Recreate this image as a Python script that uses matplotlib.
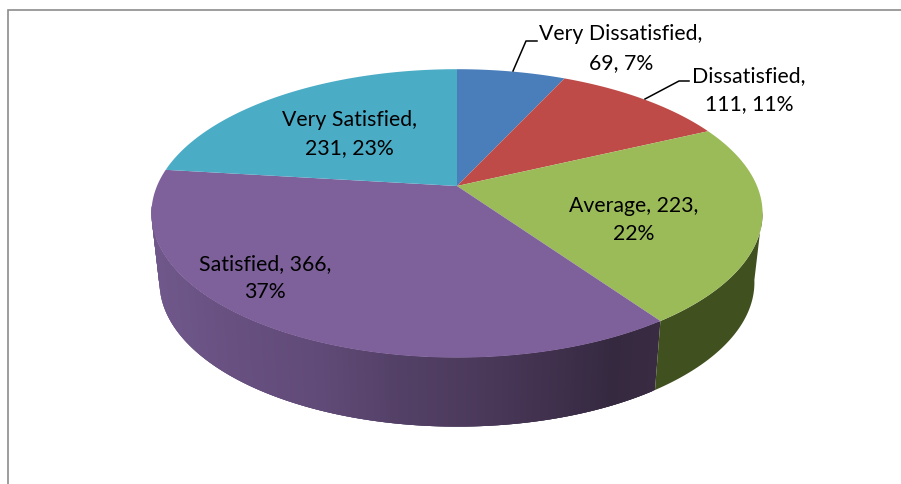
import numpy as np
import matplotlib
matplotlib.use("Agg")
import matplotlib.pyplot as plt

# 数据
names = ["Very Dissatisfied", "Dissatisfied", "Average", "Satisfied", "Very Satisfied"]
values = [69, 111, 223, 366, 231]
top_colors = ["#4a7ebb", "#be4b48", "#9bbb59", "#7e609b", "#4bacc6"]
side_colors = ["#2a4260", "#622826", "#40501f", "#412f52", "#266071"]
label_x = [621, 749, 634, 265, 349]
label_y = [48.5, 90, 220, 278, 134]
name_and_value_first = [False, False, True, True, False]

# 透视参数
cx, cy = 457, 186
ax_r, by_r, k = 300, 139, 0.19
bottom_cy, bottom_r = 255, 292

# 紫色侧面的渐变
grad_x = [150, 230, 320, 400, 480, 560, 610, 660]
grad_r = [0x70, 0x68, 0x60, 0x53, 0x4b, 0x3e, 0x35, 0x39]
grad_g = [0x58, 0x51, 0x4a, 0x40, 0x39, 0x2f, 0x29, 0x2b]
grad_b = [0x8c, 0x81, 0x77, 0x66, 0x5a, 0x4b, 0x40, 0x42]


def project(theta, yc, a):
    # theta 从正上方顺时针计算
    x3 = np.sin(theta)
    y3 = np.cos(theta)
    s = 1 / (1 + k * y3)
    return cx + a * x3 * s, yc - by_r * y3 * s


fig = plt.figure(figsize=(9.01, 4.84), dpi=100)
ax = fig.add_axes([0, 0, 1, 1])
ax.set_xlim(0, 901)
ax.set_ylim(484, 0)
ax.axis("off")

# 边框
ax.plot([7.5, 7.5, 901], [484, 9.5, 9.5], color="#8c8c8c", lw=1.2, solid_joinstyle="miter")

total = sum(values)
edges = 2 * np.pi * np.cumsum([0] + values) / total

# 紫色侧面，相邻小条互相重叠避免缝隙
t = np.linspace(edges[3], edges[4], 400)
t = t[t < np.radians(262)]
for j in range(len(t) - 1):
    pair = t[[j, min(j + 3, len(t) - 1)]]
    x1, y1 = project(pair, cy, ax_r)
    x2, y2 = project(pair, bottom_cy, bottom_r)
    xm = (x1.mean() + x2.mean()) / 2
    col = (np.interp(xm, grad_x, grad_r) / 255,
           np.interp(xm, grad_x, grad_g) / 255,
           np.interp(xm, grad_x, grad_b) / 255)
    ax.fill([x1[0], x1[1], x2[1], x2[0]], [y1[0], y1[1], y2[1], y2[0]], color=col, lw=0)

# 绿色侧面
t = np.linspace(np.radians(100), edges[3], 200)
x1, y1 = project(t, cy, ax_r)
x2, y2 = project(t, bottom_cy, bottom_r)
ax.fill(np.r_[x1, x2[::-1]], np.r_[y1, y2[::-1]], color=side_colors[2], lw=0)

# 顶面
for i in range(len(values)):
    t = np.linspace(edges[i], edges[i + 1], 200)
    x, y = project(t, cy, ax_r)
    ax.fill(np.r_[cx, x], np.r_[cy, y], color=top_colors[i], lw=0, zorder=3)

# 引线
ax.plot([513, 526, 537], [71, 41, 41], color="black", lw=1.1, zorder=4)
ax.plot([645, 679, 689], [99, 81, 81], color="black", lw=1.1, zorder=4)

# 标签
for i in range(len(values)):
    pct = round(values[i] / total * 100)
    if name_and_value_first[i]:
        s = f"{names[i]}, {values[i]},\n{pct}%"
    else:
        s = f"{names[i]},\n{values[i]}, {pct}%"
    ax.text(label_x[i], label_y[i], s, ha="center", va="center", fontsize=15.3,
            family="Lato", color="black", linespacing=1.55, zorder=5)

plt.savefig("out.png", dpi=100)
